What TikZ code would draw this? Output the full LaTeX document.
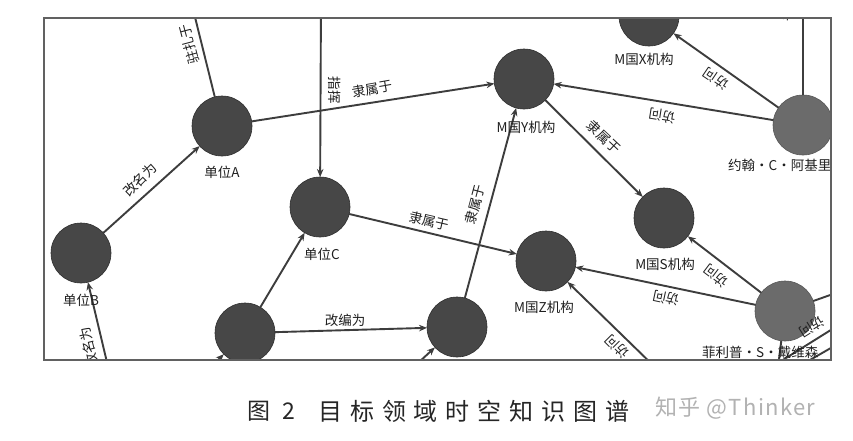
\documentclass[tikz,border=0pt]{standalone}
\usepackage{fontspec}
\newfontfamily\cjk{Noto Sans CJK SC}
\usetikzlibrary{arrows.meta}
\begin{document}
\begin{tikzpicture}[x=1pt,y=-1pt,
  ent/.style={circle,minimum size=60pt,inner sep=0pt,outer sep=0pt,fill=black!72,draw=black!82,line width=0.6pt},
  per/.style={ent,fill=black!58,draw=black!66},
  edge/.style={draw=black!76,line width=1.9pt},
  arr/.style={edge,-{Stealth[length=8pt,width=6.5pt]}},
  elab/.style={font=\cjk\fontsize{13.5}{13.5}\selectfont,text=black!88,inner sep=0pt},
  nlab/.style={font=\cjk\fontsize{13.5}{14}\selectfont,text=black!88,inner sep=0pt},
  frame/.style={draw=black!62,line width=1.5pt},
]
\useasboundingbox (0,0) rectangle (853,440);
\fill[white] (0,0) rectangle (853,440);
\begin{scope}
\clip (44,18) rectangle (831,360);
% entities
\node[ent] (A) at (222,126) {};
\node[ent] (Y) at (524,79) {};
\node[ent] (X) at (649,16) {};
\node[per] (J) at (803,125) {};
\node[ent] (C) at (320,207) {};
\node[ent] (B) at (81,253) {};
\node[ent] (P) at (245,333) {};
\node[ent] (Q) at (457,327) {};
\node[ent] (Z) at (546,261) {};
\node[ent] (S) at (664,218) {};
\node[per] (F) at (785,311) {};
% free ends outside the frame
\coordinate (t1) at (192,5);
\coordinate (t2) at (321,0);
\coordinate (t3) at (803,0);
\coordinate (b1) at (110,375);
\coordinate (b2) at (205,373);
\coordinate (b3) at (405,375);
\coordinate (b4) at (660,372);
\coordinate (b5) at (777,375);
\coordinate (r5) at (850,288);
\coordinate (r1) at (770,368);
\coordinate (r2) at (850,318);
\coordinate (r3) at (796,368);
\coordinate (r4) at (850,337);
% connectors
\draw[arr] (B) -- (A);
\draw[edge] (A) -- (t1);
\draw[arr] (t2) -- (C);
\draw[arr] (A) -- (Y);
\draw[arr] (J) -- (Y);
\draw[arr] (J) -- (X);
\draw[edge] (J) -- (t3);
\draw[arr] (Y) -- (S);
\draw[arr] (Q) -- (Y);
\draw[arr] (C) -- (Z);
\draw[arr] (P) -- (C);
\draw[arr] (P) -- (Q);
\draw[arr] (b1) -- (B);
\draw[arr] (b2) -- (P);
\draw[arr] (b3) -- (Q);
\draw[arr] (F) -- (Z);
\draw[arr] (F) -- (S);
\draw[arr] (b4) -- (Z);
\draw[edge] (F) -- (r5);
\draw[edge] (F) -- (b5);
\draw[edge] (r1) -- (r2);
\draw[edge] (r3) -- (r4);
% connector labels
\node[elab,rotate=105] (l1) at (189,44) {驻扎于};
\node[elab,rotate=-90] (l2) at (335,90) {指挥};
\node[elab,rotate=10] (l3) at (372,89) {隶属于};
\node[elab,rotate=45] (l4) at (140,180) {改名为};
\node[elab,rotate=-43] (l5) at (604,137) {隶属于};
\node[elab,rotate=146] (l6) at (716,79) {访问};
\node[elab,rotate=171] (l7) at (662,116) {访问};
\node[elab,rotate=75] (l8) at (475,205) {隶属于};
\node[elab,rotate=-13] (l9) at (429,221) {隶属于};
\node[elab] (l10) at (345,320) {改编为};
\node[elab,rotate=143] (l11) at (716,276) {访问};
\node[elab,rotate=168] (l12) at (666,298) {访问};
\node[elab,rotate=135] (l13) at (617,347) {访问};
\node[elab,rotate=212] (l14) at (812,327) {访问};
\node[elab,rotate=104] (l15) at (89,347) {改名为};
\node[elab,rotate=90] (l16) at (789,8) {访问};
% entity labels
\node[nlab] (labA) at (222,172) {单位A};
\node[nlab] (labY) at (526,127) {M国Y机构};
\node[nlab] (labX) at (644,59) {M国X机构};
\node[nlab] (labC) at (322,254) {单位C};
\node[nlab] (labB) at (81,300) {单位B};
\node[nlab] (labZ) at (544,307) {M国Z机构};
\node[nlab] (labS) at (665,264) {M国S机构};
\node[nlab,anchor=west] (labJ) at (728,165) {约翰・C・阿基里诺};
\node[nlab,anchor=west] (labF) at (702,352) {菲利普・S・戴维森};
\end{scope}
\draw[frame] (44,18) rectangle (831,360);
% caption
\node[anchor=west,font=\cjk\fontsize{23}{23}\selectfont,text=black!85,inner sep=0pt] (cap1) at (247,411) {图\hspace{12pt}2};
\node[anchor=west,font=\cjk\fontsize{24}{24}\selectfont,text=black!85,inner sep=0pt] (cap2) at (318,411) {\addfontfeature{LetterSpace=33}目标领域时空知识图谱};
\node[anchor=west,font=\cjk\fontsize{22}{22}\selectfont,text=black!30,inner sep=0pt] (wm) at (655,408) {\addfontfeature{LetterSpace=6}知乎 @Thinker};
\end{tikzpicture}
\end{document}
